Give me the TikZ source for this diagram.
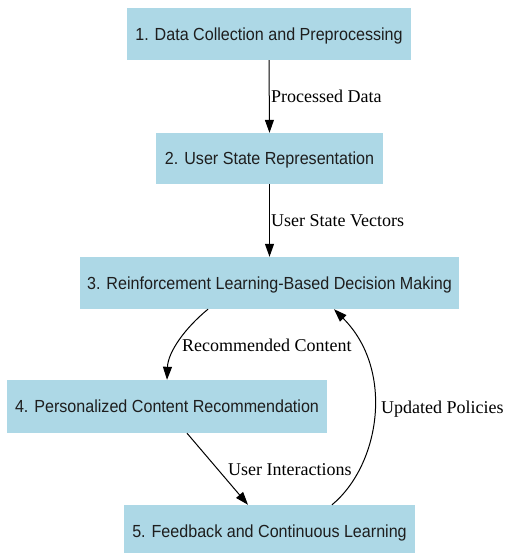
\documentclass[tikz,border=0pt]{standalone}
\usepackage{fontspec}
\setmainfont{Liberation Serif}
\newfontfamily\boxfont[FakeStretch=0.92]{Liberation Sans}
\usetikzlibrary{arrows.meta}
\definecolor{boxblue}{RGB}{173,216,230}
\definecolor{boxtext}{RGB}{30,30,30}
\tikzset{
  stepbox/.style={draw=none, fill=boxblue, inner sep=0pt, text=boxtext,
    font=\boxfont\fontsize{17.5}{20}\selectfont, text height=12.5pt, text depth=0pt},
  flow/.style={draw=black, line width=1pt, -{Triangle[length=13pt,width=9pt]}},
  elabel/.style={inner sep=0pt, anchor=west, font=\fontsize{18}{20}\selectfont,
    text height=12pt, text depth=0pt}
}
\begin{document}
\begin{tikzpicture}[x=1pt,y=-1pt]
\useasboundingbox (0,0) rectangle (505,553);
\node[stepbox, minimum width=284pt, minimum height=52pt] (n1) at (269,34) {1. Data Collection and Preprocessing};
\node[stepbox, minimum width=227pt, minimum height=51pt] (n2) at (269.5,158.5) {2. User State Representation};
\node[stepbox, minimum width=379pt, minimum height=52pt] (n3) at (269.5,283) {3. Reinforcement Learning-Based Decision Making};
\node[stepbox, minimum width=320pt, minimum height=53pt] (n4) at (167,406.5) {4. Personalized Content Recommendation};
\node[stepbox, minimum width=291pt, minimum height=52pt] (n5) at (269.5,531) {5. Feedback and Continuous Learning};

\draw[flow] (n1.south) -- (n2.north);
\draw[flow] (n2.south) -- (n3.north);
\draw[flow] (n3.south -| 208,0) .. controls (185,328) and (168,352) .. (n4.north -| 167,0);
\draw[flow] (n4.south -| 187,0) -- (n5.north -| 248,0);
\draw[flow] (n5.north -| 332,0) .. controls (380,465) and (395,370) .. (n3.south -| 334,0);

\node[elabel] (l1) at (271,97) {Processed Data};
\node[elabel] (l2) at (271,220) {User State Vectors};
\node[elabel] (l3) at (182,345) {Recommended Content};
\node[elabel] (l4) at (228,469) {User Interactions};
\node[elabel] (l5) at (381,407) {Updated Policies};
\end{tikzpicture}
\end{document}
